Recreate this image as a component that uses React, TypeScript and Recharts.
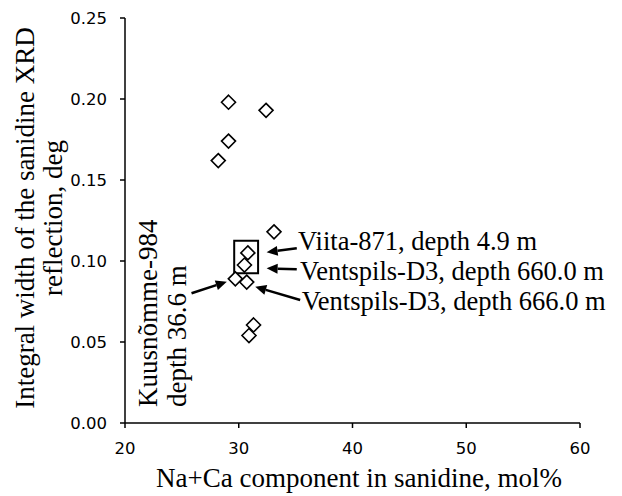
import React from 'react'
import { ScatterChart, Scatter, XAxis, YAxis, ReferenceArea, ReferenceLine, ReferenceDot } from 'recharts'

// Na+Ca component (mol%) and integral width (deg) of each sample
const naCa = [29.1, 32.4, 29.1, 28.2, 33.1, 30.8, 30.5, 29.7, 30.7, 31.3, 30.9]
const width = [0.198, 0.193, 0.174, 0.162, 0.118, 0.105, 0.0975, 0.089, 0.087, 0.0605, 0.054]

const xTicks = [20, 30, 40, 50, 60]
const yTicks = [0, 0.05, 0.1, 0.15, 0.2, 0.25]

// highlighted group
const boxX = [29.6, 31.7]
const boxY = [0.0924, 0.1125]

// arrows: tail -> head, in data units
const arrows = [
  { from: [35.1, 0.1078], to: [32.45, 0.1054] },
  { from: [35.1, 0.0949], to: [32.45, 0.0955] },
  { from: [35.4, 0.0759], to: [31.45, 0.0841] },
  { from: [25.85, 0.0801], to: [28.95, 0.0872] },
]

const notes = [
  { text: 'Viita-871, depth 4.9 m', at: [35.21, 0.1068], rotate: false },
  { text: 'Ventspils-D3, depth 660.0 m', at: [35.38, 0.0883], rotate: false },
  { text: 'Ventspils-D3, depth 666.0 m', at: [35.53, 0.0698], rotate: false },
  { text: 'Kuusnõmme-984', at: [22.8, 0.0099], rotate: true },
  { text: 'depth 36.6 m', at: [25.35, 0.0099], rotate: true },
]

const points = naCa.map((x, i) => ({ x, y: width[i] }))

const serif = '"Liberation Serif", "Times New Roman", serif'
const tickStyle = { fontFamily: '"DejaVu Sans", sans-serif', fontSize: 16.5, fill: '#000', stroke: 'none' }

const Diamond = (props: any) => {
  const { cx, cy } = props
  const r = 7
  return (
    <path
      d={`M${cx},${cy - r} L${cx + r},${cy} L${cx},${cy + r} L${cx - r},${cy} Z`}
      fill="#fff"
      stroke="#000"
      strokeWidth={1.6}
    />
  )
}

const Arrow = (props: any) => {
  const { x1, y1, x2, y2 } = props
  const dx = x2 - x1
  const dy = y2 - y1
  const len = Math.sqrt(dx * dx + dy * dy)
  const ux = dx / len
  const uy = dy / len
  const hl = 11
  const hw = 5
  const bx = x2 - ux * hl
  const by = y2 - uy * hl
  return (
    <g>
      <line x1={x1} y1={y1} x2={bx} y2={by} stroke="#000" strokeWidth={2.5} />
      <polygon
        points={`${x2},${y2} ${bx - uy * hw},${by + ux * hw} ${bx + uy * hw},${by - ux * hw}`}
        fill="#000"
      />
    </g>
  )
}

export default function App() {
  return (
    <div style={{ position: 'absolute', left: 0, top: 0, background: '#fff' }}>
      <ScatterChart width={622} height={496} margin={{ top: 18, right: 42, bottom: 0, left: 0 }}>
        <XAxis
          type="number"
          dataKey="x"
          domain={[20, 60]}
          ticks={xTicks}
          height={73}
          stroke="#000"
          tickSize={5}
          tickMargin={14}
          tick={tickStyle}
          axisLine={{ stroke: '#000', strokeWidth: 1.5 }}
          tickLine={{ stroke: '#000', strokeWidth: 1.5 }}
        />
        <YAxis
          type="number"
          dataKey="y"
          domain={[0, 0.25]}
          ticks={yTicks}
          width={125}
          stroke="#000"
          tickSize={5}
          tickMargin={13}
          tick={tickStyle}
          tickFormatter={(v: number) => v.toFixed(2)}
          axisLine={{ stroke: '#000', strokeWidth: 1.5 }}
          tickLine={{ stroke: '#000', strokeWidth: 1.5 }}
        />
        <ReferenceArea
          x1={boxX[0]}
          x2={boxX[1]}
          y1={boxY[0]}
          y2={boxY[1]}
          fill="none"
          fillOpacity={0}
          stroke="#000"
          strokeWidth={2}
        />
        {arrows.map((a, i) => (
          <ReferenceLine
            key={`arrow-${i}`}
            segment={[{ x: a.from[0], y: a.from[1] }, { x: a.to[0], y: a.to[1] }]}
            shape={Arrow}
          />
        ))}
        {notes.map((n, i) => (
          <ReferenceDot
            key={`note-${i}`}
            x={n.at[0]}
            y={n.at[1]}
            r={0}
            shape={(p: any) => (
              <text
                x={p.cx}
                y={p.cy}
                transform={n.rotate ? `rotate(-90 ${p.cx} ${p.cy})` : undefined}
                fontFamily={serif}
                fontSize={n.rotate ? 27 : 26.5}
                fill="#000"
              >
                {n.text}
              </text>
            )}
          />
        ))}
        <Scatter data={points} shape={Diamond} isAnimationActive={false} />
        <text x={34} y={218} transform="rotate(-90 34 218)" textAnchor="middle" fontFamily={serif} fontSize={27} fill="#000">
          Integral width of the sanidine XRD
        </text>
        <text x={62} y={218} transform="rotate(-90 62 218)" textAnchor="middle" fontFamily={serif} fontSize={27} fill="#000">
          reflection, deg
        </text>
        <text x={359} y={487} textAnchor="middle" fontFamily={serif} fontSize={27} fill="#000">
          Na+Ca component in sanidine, mol%
        </text>
      </ScatterChart>
    </div>
  )
}
